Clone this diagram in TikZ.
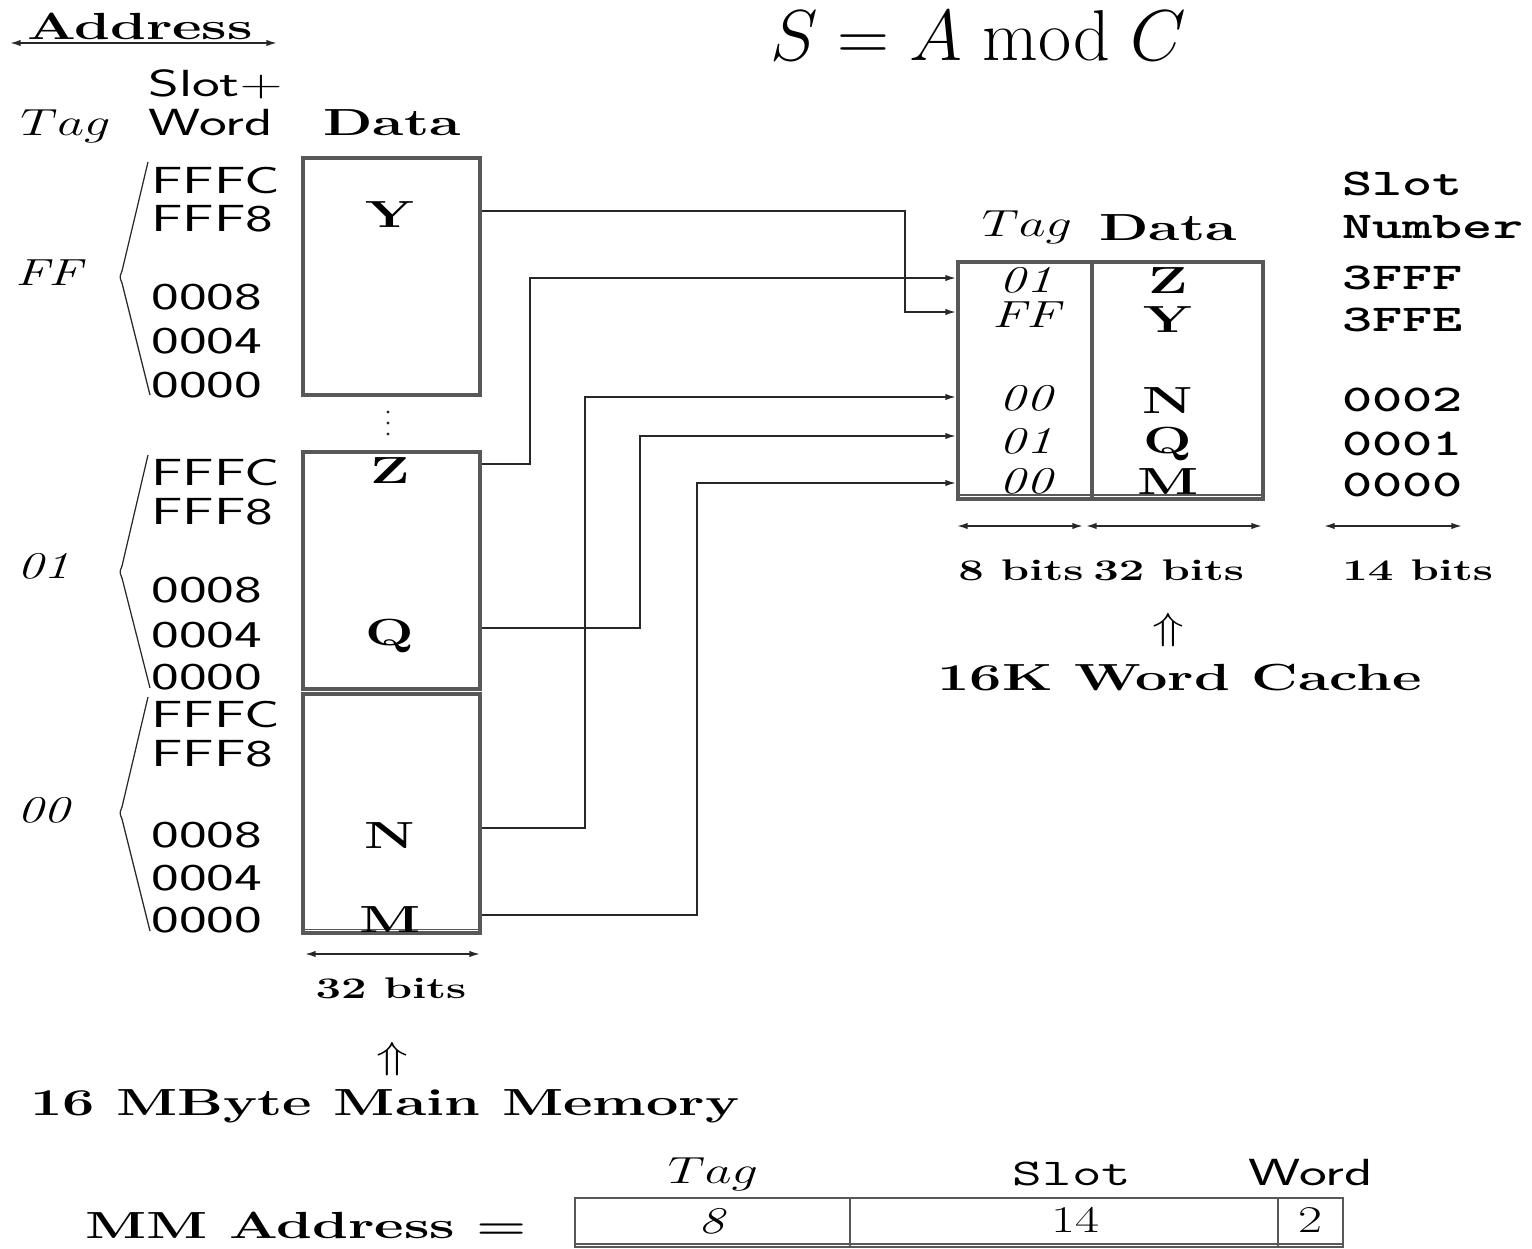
\RequirePackage{fix-cm}
\documentclass[tikz,border=0pt]{standalone}
\usepackage{graphicx}
\usetikzlibrary{arrows.meta}
\newcommand\sx[1]{\scalebox{1.38}[1]{#1}}
\newcommand\sxb[1]{\scalebox{1.52}[1]{\bfseries #1}}
\newcommand\sxs[1]{\scalebox{1.56}[1]{\sffamily #1}}
\newcommand\sxt[1]{\scalebox{1.52}[1]{\ttfamily\bfseries #1}}
\definecolor{boxc}{RGB}{88,88,88}
\definecolor{linec}{RGB}{40,40,40}
\tikzset{
  every node/.style={inner sep=0pt, font=\fontsize{21.5}{25}\selectfont},
  small/.style={font=\fontsize{17}{20}\selectfont},
  membox/.style={draw=boxc, line width=2.2pt, minimum width=3.54cm},
  cbox/.style={draw=boxc, line width=2.2pt, minimum height=4.74cm},
  abox/.style={draw=boxc, line width=1.6pt, minimum height=0.98cm},
  extraline/.style={draw=boxc, line width=0.9pt},
  conn/.style={draw=linec, line width=0.9pt, -{Latex[length=6pt,width=3.6pt]}},
  dimarrow/.style={draw=linec, line width=0.9pt, {Latex[length=6pt,width=3.6pt]}-{Latex[length=6pt,width=3.6pt]}},
  bracel/.style={draw=linec, line width=0.7pt},
  lab/.style={anchor=base west},
  ctr/.style={anchor=base}
}
\begin{document}
\begin{tikzpicture}[x=0.02cm, y=-0.02cm]
\useasboundingbox (0,0) rectangle (1532,1248);
\fill[white] (0,0) rectangle (1532,1248);

% title
\node[anchor=base west, font=\fontsize{41}{46}\selectfont] (title) at (770,60)
  {$S = A \bmod C$};

% headers (main memory)
\node[ctr] (addr) at (140,39) {\sxb{Address}};
\coordinate (addrL) at (10,43);
\coordinate (addrR) at (277,43);
\draw[dimarrow] (addrL) -- (addrR);
\node[lab] (slotp) at (148,96) {\sxs{Slot$+$}};
\node[lab] (wordh) at (148,135) {\sxs{Word}};
\node[lab] (tagh) at (20,135) {\sx{$Tag$}};
\node[ctr] (datah) at (392,135) {\sxb{Data}};

% main memory blocks
\node[membox, minimum height=4.74cm] (mb1) at (391.5,276.5) {};
\node[membox, minimum height=4.74cm] (mb2) at (391.5,570.5) {};
\node[membox, minimum height=4.78cm] (mb3) at (391.5,813.5) {};
\draw[extraline] ([yshift=3pt]mb3.south west) -- ([yshift=3pt]mb3.south east);

\node[ctr] (Y) at (390,227) {\sxb{Y}};
\node[ctr] (Z) at (390,483) {\sxb{Z}};
\node[ctr] (Q) at (390,645) {\sxb{Q}};
\node[ctr] (N) at (390,848) {\sxb{N}};
\node[ctr] (M) at (390,932) {\sxb{M}};

\fill[linec] (388,412) circle (1.6);
\fill[linec] (388,423) circle (1.6);
\fill[linec] (388,434) circle (1.6);

% address labels
\foreach \t/\y [count=\i] in {FFFC/193, FFF8/231, 0008/309, 0004/353, 0000/397}
  \node[lab] (ga\i) at (151,\y) {\sxs{\t}};
\foreach \t/\y [count=\i] in {FFFC/485, FFF8/524, 0008/602, 0004/647, 0000/689}
  \node[lab] (gb\i) at (151,\y) {\sxs{\t}};
\foreach \t/\y [count=\i] in {FFFC/727, FFF8/766, 0008/847, 0004/890, 0000/932}
  \node[lab] (gc\i) at (151,\y) {\sxs{\t}};

% braces
\draw[bracel] (148,162) -- (122,271) .. controls (119.5,277) .. (122,283) -- (150,395);
\draw[bracel] (148,455) -- (122,566) .. controls (119.5,572) .. (122,578) -- (150,688);
\draw[bracel] (148,697) -- (122,807) .. controls (119.5,813) .. (122,819) -- (150,931);

% tag labels
\node[lab] (tFF) at (15,285) {\sx{\itshape FF}};
\node[lab] (t01) at (17,578) {\sx{\itshape 01}};
\node[lab] (t00) at (17,822) {\sx{\itshape 00}};

% main memory width
\coordinate (mwL) at (305,954);
\coordinate (mwR) at (480,954);
\draw[dimarrow] (mwL) -- (mwR);
\node[ctr, small] (mw) at (391,998) {\sxb{32 bits}};
\node (up1) at (392,1059) {\sx{$\Uparrow$}};
\node[lab] (mmname) at (30,1115) {\sxb{16 MByte Main Memory}};

% cache
\node[ctr] (ctagh) at (1027,236) {\sx{$Tag$}};
\node[ctr] (cdatah) at (1168,240) {\sxb{Data}};
\node[lab] (sloth) at (1342,195) {\sxt{Slot}};
\node[lab] (numh) at (1342,238) {\sxt{Number}};

\node[cbox, minimum width=2.68cm] (ctag) at (1025,380.5) {};
\node[cbox, minimum width=3.42cm] (cdata) at (1177.5,380.5) {};
\draw[extraline] ([yshift=3.5pt]ctag.south west) -- ([yshift=3.5pt]cdata.south east);

\node[ctr] (ct1) at (1026,292) {\sx{\itshape 01}};
\node[ctr] (ct2) at (1026,327) {\sx{\itshape FF}};
\node[ctr] (ct3) at (1026,410) {\sx{\itshape 00}};
\node[ctr] (ct4) at (1026,453) {\sx{\itshape 01}};
\node[ctr] (ct5) at (1026,493) {\sx{\itshape 00}};

\node[ctr] (cZ) at (1168,293) {\sxb{Z}};
\node[ctr] (cY) at (1168,332) {\sxb{Y}};
\node[ctr] (cN) at (1168,413) {\sxb{N}};
\node[ctr] (cQ) at (1168,453) {\sxb{Q}};
\node[ctr] (cM) at (1168,494) {\sxb{M}};

\node[lab] (s1) at (1342,289) {\sxt{3FFF}};
\node[lab] (s2) at (1342,331) {\sxt{3FFE}};
\node[lab] (s3) at (1342,411) {\sxt{0002}};
\node[lab] (s4) at (1342,455) {\sxt{0001}};
\node[lab] (s5) at (1342,496) {\sxt{0000}};

% cache widths
\coordinate (c8L) at (957,526);
\coordinate (c8R) at (1083,526);
\coordinate (c32L) at (1086,526);
\coordinate (c32R) at (1262,526);
\coordinate (c14L) at (1324,526);
\coordinate (c14R) at (1462,526);
\draw[dimarrow] (c8L) -- (c8R);
\draw[dimarrow] (c32L) -- (c32R);
\draw[dimarrow] (c14L) -- (c14R);
\node[lab, small] (b8) at (958,580) {\sxb{8 bits}};
\node[lab, small] (b32) at (1093,580) {\sxb{32 bits}};
\node[lab, small] (b14) at (1342,580) {\sxb{14 bits}};
\node (up2) at (1168,630) {\sx{$\Uparrow$}};
\node[lab] (cname) at (937,690) {\sxb{16K Word Cache}};

% connectors
\coordinate (pY) at (482,211);
\coordinate (pZ) at (482,464);
\coordinate (pQ) at (482,628);
\coordinate (pN) at (482,828);
\coordinate (pM) at (482,915);
\coordinate (r1) at (956,278);
\coordinate (r2) at (956,312);
\coordinate (r3) at (956,397);
\coordinate (r4) at (956,436);
\coordinate (r5) at (956,483);
\draw[conn] (pY) -| (905,312) -- (r2);
\draw[conn] (pZ) -| (530,278) -- (r1);
\draw[conn] (pN) -| (585,397) -- (r3);
\draw[conn] (pQ) -| (640,436) -- (r4);
\draw[conn] (pM) -| (697,483) -- (r5);

% MM address
\node[lab] (mmaddr) at (85,1238) {\sxb{MM Address =}};
\node[abox, minimum width=5.5cm] (atag) at (712.5,1222.5) {};
\node[abox, minimum width=8.56cm] (aslot) at (1064,1222.5) {};
\node[abox, minimum width=1.3cm] (aword) at (1310.5,1222.5) {};
\draw[extraline] ([yshift=2.5pt]atag.south west) -- ([yshift=2.5pt]aword.south east);
\node[ctr] (atagh) at (713,1183) {\sx{$Tag$}};
\node[ctr] (asloth) at (1072,1185) {\scalebox{1.52}[1]{\ttfamily Slot}};
\node[ctr] (awordh) at (1311,1185) {\sxs{Word}};
\node[ctr] (a8) at (712,1233) {\sx{\itshape 8}};
\node[ctr] (a14) at (1075,1232) {\sx{14}};
\node[ctr] (a2) at (1310,1232) {\sx{2}};
\end{tikzpicture}
\end{document}
